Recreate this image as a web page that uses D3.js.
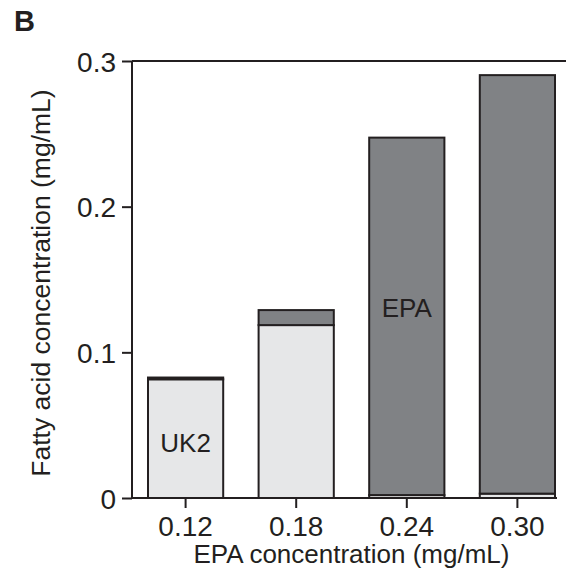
<!doctype html>
<html>
<head>
<meta charset="utf-8"/>
<style>
    html, body { margin: 0; padding: 0; background: #fff; }
    svg { display: block; font-family: "Liberation Sans", Arial, sans-serif; }
    .axis path, .axis line { stroke: #231f20; stroke-width: 2px; }
    .axis text { font-size: 28px; fill: #231f20; }
</style>
<script src="https://d3js.org/d3.v7.min.js"></script>
</head>
<body>
<svg width="566" height="575"></svg>
<script>
// EPA dose on the x axis (mg/mL)
var doses = ["0.12", "0.18", "0.24", "0.30"];
// measured fatty acids per dose (mg/mL), stacked UK2 then EPA
var uk2 = [0.0815, 0.1187, 0.002, 0.003];
var epa = [0.0012, 0.0103, 0.2454, 0.2873];
var yTicks = [0, 0.1, 0.2, 0.3];
var yTickLabels = ["0", "0.1", "0.2", "0.3"];
var seriesKeys = ["uk2", "epa"];
var seriesColors = { uk2: "#e6e7e8", epa: "#808285" };

var ink = "#231f20";
var svg = d3.select("svg");

var rows = doses.map(function(d, i) { return { dose: d, uk2: uk2[i], epa: epa[i] }; });

var x = d3.scaleBand().domain(doses).range([148, 555]).paddingInner(0.32).paddingOuter(0);
var y = d3.scaleLinear().domain([0, 0.3]).range([498, 61]);
var axisLeftX = 132;

// stacked bars
var stacked = d3.stack().keys(seriesKeys)(rows);
svg.append("g").selectAll("g").data(stacked).enter().append("g")
    .attr("fill", function(s) { return seriesColors[s.key]; })
    .selectAll("rect").data(function(s) { return s; }).enter().append("rect")
    .attr("x", function(d) { return x(d.data.dose); })
    .attr("width", x.bandwidth())
    .attr("y", function(d) { return y(d[1]); })
    .attr("height", function(d) { return y(d[0]) - y(d[1]); })
    .attr("stroke", ink)
    .attr("stroke-width", 2);

// y axis
var yAxis = svg.append("g").attr("class", "axis")
    .attr("transform", "translate(" + axisLeftX + ",0)")
    .call(d3.axisLeft(y).tickValues(yTicks)
        .tickFormat(function(d, i) { return yTickLabels[i]; })
        .tickSize(10).tickSizeOuter(0).tickPadding(6));
yAxis.select(".domain").remove();
yAxis.append("line").attr("x1", 0).attr("x2", 0).attr("y1", y(0.3)).attr("y2", y(0))
    .attr("stroke", ink).attr("stroke-width", 2);
yAxis.selectAll("text").attr("dy", "0.36em");

// top frame line at 0.3
svg.append("line").attr("x1", axisLeftX).attr("x2", 566).attr("y1", y(0.3)).attr("y2", y(0.3))
    .attr("stroke", ink).attr("stroke-width", 2);

// x axis
var xAxis = svg.append("g").attr("class", "axis")
    .attr("transform", "translate(0," + y(0) + ")")
    .call(d3.axisBottom(x).tickSize(10).tickSizeOuter(0).tickPadding(8));
xAxis.select(".domain").remove();
xAxis.append("line").attr("x1", axisLeftX).attr("x2", 557).attr("y1", 0).attr("y2", 0)
    .attr("stroke", ink).attr("stroke-width", 2);

// axis titles
svg.append("text")
    .attr("x", (axisLeftX + 557) / 2 + 7).attr("y", 563)
    .attr("text-anchor", "middle").attr("font-size", 26).attr("fill", ink)
    .text("EPA concentration (mg/mL)");
svg.append("text")
    .attr("transform", "translate(50," + 283 + ") rotate(-90)")
    .attr("text-anchor", "middle").attr("font-size", 26.5).attr("fill", ink)
    .text("Fatty acid concentration (mg/mL)");

// series labels inside bars
svg.append("text")
    .attr("x", x("0.12") + x.bandwidth() / 2).attr("y", 452)
    .attr("text-anchor", "middle").attr("font-size", 26).attr("fill", ink).text("UK2");
svg.append("text")
    .attr("x", x("0.24") + x.bandwidth() / 2).attr("y", 317)
    .attr("text-anchor", "middle").attr("font-size", 26).attr("fill", ink).text("EPA");

// panel letter
svg.append("text").attr("x", 14).attr("y", 31)
    .attr("font-size", 29).attr("font-weight", "bold").attr("fill", ink).text("B");
</script>
</body>
</html>
